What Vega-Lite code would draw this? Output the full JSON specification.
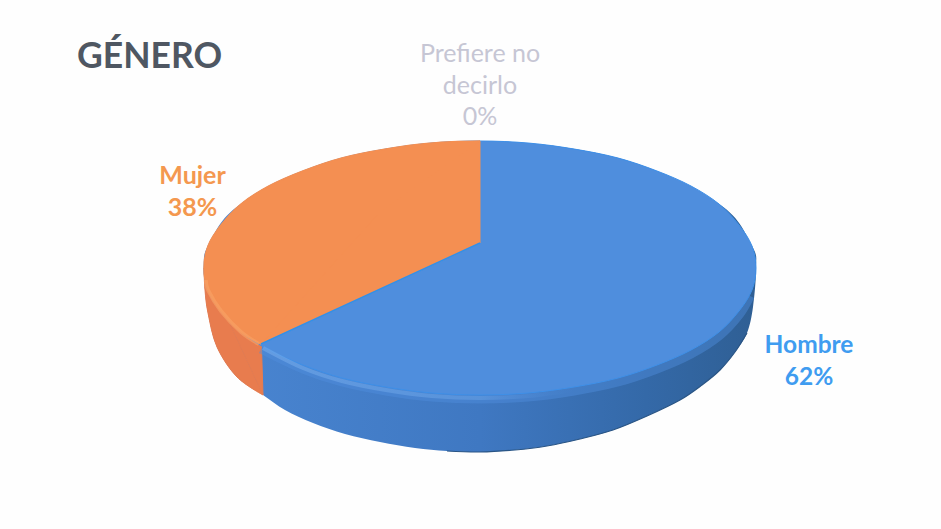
{"$schema":"https://vega.github.io/schema/vega-lite/v6.json","width":941,"height":529,"autosize":{"type":"fit","contains":"padding"},"padding":0,"background":"#fefefe","config":{"view":{"stroke":null}},
"datasets":{
"topEllipse":[{"s":0,"x":276,"y":4},{"s":1,"x":272,"y":26},{"s":2,"x":259,"y":47},{"s":3,"x":239,"y":68},{"s":4,"x":211,"y":86},{"s":5,"x":177,"y":101},{"s":6,"x":138,"y":114},{"s":7,"x":94,"y":123},{"s":8,"x":48,"y":129},{"s":9,"x":0,"y":131},{"s":10,"x":-48,"y":129},{"s":11,"x":-94,"y":123},{"s":12,"x":-138,"y":114},{"s":13,"x":-177,"y":101},{"s":14,"x":-211,"y":86},{"s":15,"x":-239,"y":68},{"s":16,"x":-259,"y":47},{"s":17,"x":-272,"y":26},{"s":18,"x":-276,"y":4},{"s":19,"x":-272,"y":-18},{"s":20,"x":-259,"y":-39},{"s":21,"x":-239,"y":-60},{"s":22,"x":-211,"y":-78},{"s":23,"x":-177,"y":-93},{"s":24,"x":-138,"y":-106},{"s":25,"x":-94,"y":-115},{"s":26,"x":-48,"y":-121},{"s":27,"x":0,"y":-123},{"s":28,"x":48,"y":-121},{"s":29,"x":94,"y":-115},{"s":30,"x":138,"y":-106},{"s":31,"x":177,"y":-93},{"s":32,"x":211,"y":-78},{"s":33,"x":239,"y":-60},{"s":34,"x":259,"y":-39},{"s":35,"x":272,"y":-18}],
"orangeArc":[{"s":1,"x":0,"y":131},{"s":2,"x":-48,"y":129},{"s":3,"x":-94,"y":123},{"s":4,"x":-138,"y":114},{"s":5,"x":-177,"y":101},{"s":6,"x":-211,"y":86},{"s":7,"x":-239,"y":68},{"s":8,"x":-259,"y":47},{"s":9,"x":-272,"y":26},{"s":10,"x":-276,"y":4},{"s":11,"x":-272,"y":-18},{"s":12,"x":-259,"y":-39},{"s":13,"x":-239,"y":-60},{"s":14,"x":-219,"y":-72}],
"orangeWedge":[{"s":0,"x":0,"y":29},{"s":1,"x":0,"y":131},{"s":2,"x":-100,"y":60},{"s":3,"x":-219,"y":-72}],
"underside":[{"s":0,"x":276,"y":4},{"s":1,"x":272,"y":26},{"s":2,"x":239,"y":68},{"s":3,"x":138,"y":114},{"s":4,"x":0,"y":131},{"s":5,"x":-138,"y":114},{"s":6,"x":-239,"y":68},{"s":7,"x":-272,"y":26},{"s":8,"x":-276,"y":4},{"s":9,"x":-275,"y":-18},{"s":10,"x":-272,"y":-41},{"s":11,"x":-263,"y":-75},{"s":12,"x":-243,"y":-105},{"s":13,"x":-217,"y":-123},{"s":14,"x":-195,"y":-138},{"s":15,"x":-167,"y":-151},{"s":16,"x":-135,"y":-162},{"s":17,"x":-100,"y":-170},{"s":18,"x":-65,"y":-176},{"s":19,"x":-33,"y":-179},{"s":20,"x":0,"y":-180},{"s":21,"x":35,"y":-178},{"s":22,"x":67,"y":-174},{"s":23,"x":100,"y":-167},{"s":24,"x":133,"y":-158},{"s":25,"x":167,"y":-144},{"s":26,"x":200,"y":-128},{"s":27,"x":222,"y":-113},{"s":28,"x":240,"y":-98},{"s":29,"x":255,"y":-80},{"s":30,"x":267,"y":-61},{"s":31,"x":273,"y":-35}],
"wallOrangeArc":[{"s":0,"x":-276,"y":4},{"s":1,"x":-275,"y":-18},{"s":2,"x":-272,"y":-41},{"s":3,"x":-263,"y":-75},{"s":4,"x":-243,"y":-105},{"s":5,"x":-217,"y":-123}],
"wallOrangeFill":[{"s":0,"x":-276,"y":4},{"s":1,"x":-217,"y":-123},{"s":2,"x":-219,"y":-60},{"s":3,"x":-230,"y":-30}],
"softEdge":[{"s":1,"x":-219,"y":-77},{"s":2,"x":-177,"y":-97},{"s":3,"x":-138,"y":-110},{"s":4,"x":-94,"y":-119},{"s":5,"x":-48,"y":-125},{"s":6,"x":0,"y":-127},{"s":7,"x":48,"y":-125},{"s":8,"x":94,"y":-119},{"s":9,"x":138,"y":-110},{"s":10,"x":177,"y":-97},{"s":11,"x":211,"y":-82},{"s":12,"x":239,"y":-64},{"s":13,"x":259,"y":-43},{"s":14,"x":270,"y":-24}],
"rimBlue":[{"s":1,"x":-217,"y":-76},{"s":2,"x":-177,"y":-96},{"s":3,"x":-138,"y":-109},{"s":4,"x":-94,"y":-118},{"s":5,"x":-48,"y":-124},{"s":6,"x":0,"y":-126},{"s":7,"x":48,"y":-124},{"s":8,"x":94,"y":-118}],
"rimOrange":[{"s":1,"x":-274,"y":-8},{"s":2,"x":-272,"y":-18},{"s":3,"x":-259,"y":-39},{"s":4,"x":-239,"y":-60},{"s":5,"x":-221,"y":-72}],
"bottomEdge":[{"s":1,"x":-33,"y":-179},{"s":2,"x":0,"y":-180},{"s":3,"x":35,"y":-178},{"s":4,"x":67,"y":-174},{"s":5,"x":100,"y":-167},{"s":6,"x":133,"y":-158},{"s":7,"x":167,"y":-144},{"s":8,"x":200,"y":-128},{"s":9,"x":222,"y":-113},{"s":10,"x":240,"y":-98},{"s":11,"x":255,"y":-80},{"s":12,"x":267,"y":-61}],
"seam":[{"s":1,"x":0,"y":29},{"s":2,"x":-219,"y":-72}],
"labels":[{"name":"Prefiere no\ndecirlo\n0%","x":0,"y":230},{"name":"Mujer\n38%","x":-287.5,"y":108},{"name":"Hombre\n62%","x":329,"y":-62}],
"titleRow":[{"name":"GÉNERO","x":-403,"y":215}]
},
"encoding":{"x":{"field":"x","type":"quantitative","scale":{"domain":[-480,461]},"axis":null},"y":{"field":"y","type":"quantitative","scale":{"domain":[-257,272]},"axis":null},"order":{"field":"s","type":"quantitative"}},
"layer":[
{"data":{"name":"underside"},"mark":{"type":"line","interpolate":"cardinal-closed","filled":true,"fill":{"gradient":"linear","x1":0,"y1":0,"x2":1,"y2":0,"stops":[{"offset":0,"color":"#4a86d2"},{"offset":0.5,"color":"#3f78c2"},{"offset":0.8,"color":"#3469a8"},{"offset":1,"color":"#2f5f94"}]},"stroke":null}},
{"data":{"name":"bottomEdge"},"mark":{"type":"line","interpolate":"cardinal","stroke":"#2a5585","strokeWidth":1.2}},
{"data":{"name":"wallOrangeArc"},"mark":{"type":"line","interpolate":"cardinal","filled":true,"fill":"#e87c4e","stroke":"#e87c4e","strokeWidth":1}},
{"data":{"name":"wallOrangeFill"},"mark":{"type":"line","interpolate":"linear-closed","filled":true,"fill":"#e87c4e","stroke":"#e87c4e","strokeWidth":1}},
{"data":{"name":"softEdge"},"mark":{"type":"line","interpolate":"cardinal","stroke":"#4f8edd","strokeWidth":9,"opacity":0.45}},
{"data":{"name":"topEllipse"},"mark":{"type":"line","interpolate":"cardinal-closed","filled":true,"fill":"#4f8edd","stroke":"#3f90e8","strokeWidth":1}},
{"data":{"name":"orangeArc"},"mark":{"type":"line","interpolate":"cardinal","filled":true,"fill":"#f48f52","stroke":"#f48f52","strokeWidth":1.5}},
{"data":{"name":"orangeWedge"},"mark":{"type":"line","interpolate":"linear-closed","filled":true,"fill":"#f48f52","stroke":"#f48f52","strokeWidth":1}},
{"data":{"name":"rimBlue"},"mark":{"type":"line","interpolate":"cardinal","strokeWidth":4,"stroke":{"gradient":"linear","x1":0,"y1":0,"x2":1,"y2":0,"stops":[{"offset":0,"color":"rgba(116,170,234,0.6)"},{"offset":0.7,"color":"rgba(106,163,230,0.5)"},{"offset":1,"color":"rgba(79,142,221,0)"}]}}},
{"data":{"name":"rimOrange"},"mark":{"type":"line","interpolate":"cardinal","stroke":"#f8a468","strokeWidth":4,"opacity":0.6}},
{"data":{"name":"seam"},"mark":{"type":"line","stroke":"#2f90ec","strokeWidth":1.5}},
{"data":{"name":"titleRow"},"mark":{"type":"text","font":"Lato","fontWeight":"bold","fontSize":35.5,"align":"left","baseline":"middle","color":"#4f5762"},"encoding":{"text":{"field":"name"}}},
{"data":{"name":"labels"},"transform":[{"filter":"indexof(datum.name,'Prefiere')==0"}],"mark":{"type":"text","font":"Lato","fontSize":25,"lineBreak":"\n","lineHeight":31.5,"align":"center","baseline":"top","color":"#c6c6d4"},"encoding":{"text":{"field":"name"}}},
{"data":{"name":"labels"},"transform":[{"filter":"indexof(datum.name,'Mujer')==0"}],"mark":{"type":"text","font":"Lato","fontWeight":"bold","fontSize":25,"lineBreak":"\n","lineHeight":31.5,"align":"center","baseline":"top","color":"#f4984f"},"encoding":{"text":{"field":"name"}}},
{"data":{"name":"labels"},"transform":[{"filter":"indexof(datum.name,'Hombre')==0"}],"mark":{"type":"text","font":"Lato","fontWeight":"bold","fontSize":24.5,"lineBreak":"\n","lineHeight":32,"align":"center","baseline":"top","color":"#3f9cf0"},"encoding":{"text":{"field":"name"}}}
]}
